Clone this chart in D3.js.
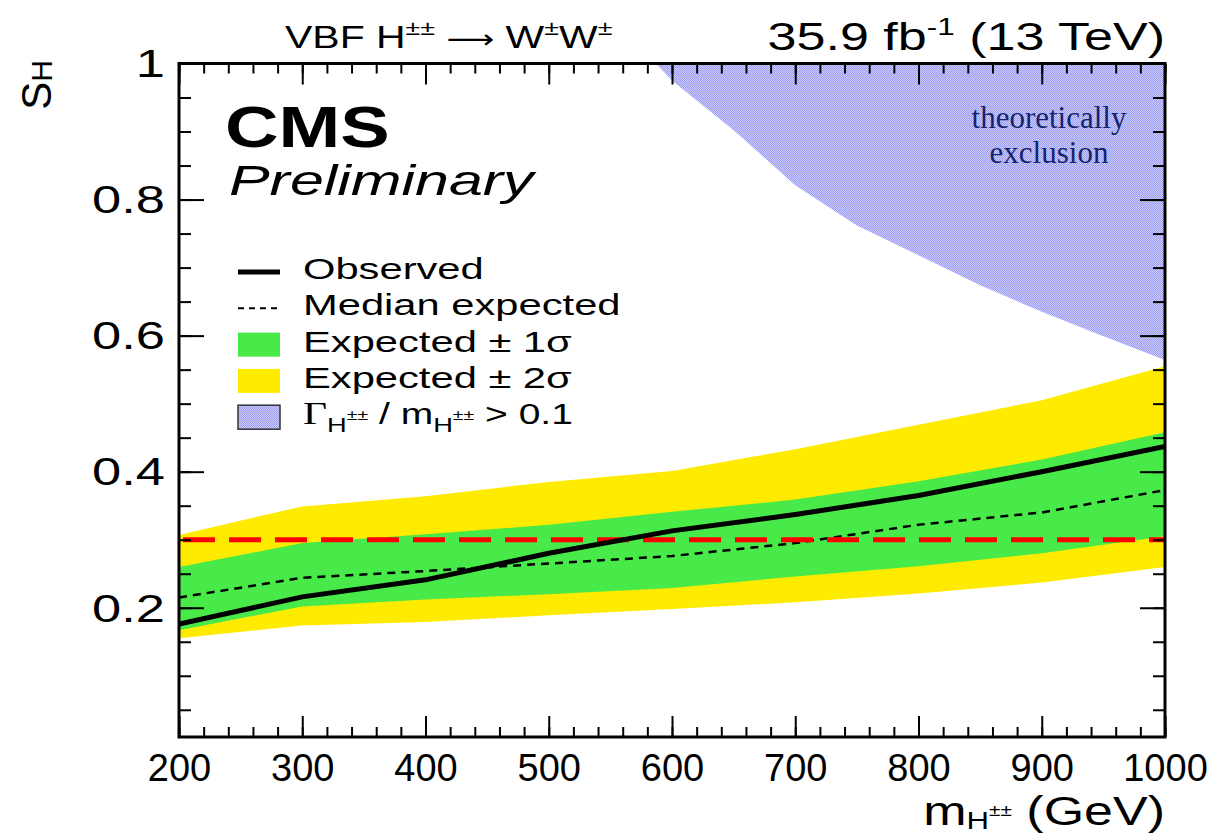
<!DOCTYPE html>
<html>
<head>
<meta charset="utf-8">
<script src="https://cdn.jsdelivr.net/npm/d3@7"></script>
<style>
	body { margin: 0; background: #fff; }
	svg { font-family: 'Liberation Sans', Arial, sans-serif; }
	.tick line { stroke: #000; stroke-width: 2; }
</style>
</head>
<body>
<svg id="chart" width="1216" height="834"></svg>
<script>
// Limits on s_H vs m(H++)
const mass = [200, 300, 400, 500, 600, 700, 800, 900, 1000]
const observed = [0.176, 0.216, 0.241, 0.280, 0.313, 0.337, 0.365, 0.400, 0.437]
const expected = [0.215, 0.244, 0.254, 0.265, 0.276, 0.295, 0.322, 0.340, 0.373]
const oneSigmaUp = [0.260, 0.295, 0.308, 0.322, 0.341, 0.359, 0.386, 0.418, 0.458]
const oneSigmaDown = [0.167, 0.202, 0.212, 0.220, 0.229, 0.246, 0.261, 0.280, 0.305]
const twoSigmaUp = [0.307, 0.349, 0.364, 0.385, 0.401, 0.433, 0.469, 0.505, 0.555]
const twoSigmaDown = [0.155, 0.174, 0.179, 0.189, 0.198, 0.208, 0.221, 0.237, 0.260]

// Gamma/m > 0.1 boundary
const theoryMass = [587, 600, 650, 700, 750, 800, 850, 900, 950, 1000]
const theoryLimit = [1.0, 0.975, 0.902, 0.821, 0.762, 0.718, 0.674, 0.635, 0.599, 0.564]

const referenceLine = 0.3

const xTicks = [200, 300, 400, 500, 600, 700, 800, 900, 1000]
const yTicks = [0.2, 0.4, 0.6, 0.8, 1]
const yTickLabels = ['0.2', '0.4', '0.6', '0.8', '1']

const x = d3.scaleLinear().domain([200, 1000]).range([179, 1165])
const y = d3.scaleLinear().domain([0.01, 1]).range([737, 63.5])

const svg = d3.select('#chart')

svg.append('defs')
	.append('pattern')
	.attr('id', 'hatch')
	.attr('patternUnits', 'userSpaceOnUse')
	.attr('width', 2)
	.attr('height', 2)
	.call(p => {
		p.append('rect').attr('width', 2).attr('height', 2).attr('fill', '#cbcbfc')
		p.append('rect').attr('width', 1).attr('height', 1).attr('fill', '#9c9cf2')
		p.append('rect').attr('x', 1).attr('y', 1).attr('width', 1).attr('height', 1).attr('fill', '#9c9cf2')
	})

svg.select('defs')
	.append('clipPath')
	.attr('id', 'frame-clip')
	.append('rect')
	.attr('x', x(200))
	.attr('y', y(1))
	.attr('width', x(1000) - x(200))
	.attr('height', y(0.01) - y(1))

const rows = mass.map((m, i) => ({
	m,
	obs: observed[i],
	exp: expected[i],
	up1: oneSigmaUp[i],
	dn1: oneSigmaDown[i],
	up2: twoSigmaUp[i],
	dn2: twoSigmaDown[i]
}))

const plot = svg.append('g').attr('clip-path', 'url(#frame-clip)')

const band = (lo, hi) =>
	d3.area()
		.x(d => x(d.m))
		.y0(d => y(d[lo]))
		.y1(d => y(d[hi]))

plot.append('path')
	.attr('d', band('dn2', 'up2')(rows))
	.attr('fill', '#ffeb00')

plot.append('path')
	.attr('d', band('dn1', 'up1')(rows))
	.attr('fill', '#47ea48')

const theory = theoryMass.map((m, i) => ({ m, v: theoryLimit[i] }))

plot.append('path')
	.attr('d',
		d3.area()
			.x(d => x(d.m))
			.y0(y(1))
			.y1(d => y(d.v))(theory))
	.attr('fill', 'url(#hatch)')

plot.append('path')
	.attr('d', d3.line().x(d => x(d.m)).y(d => y(d.exp))(rows))
	.attr('fill', 'none')
	.attr('stroke', '#000')
	.attr('stroke-width', 2.5)
	.attr('stroke-dasharray', '8,6')

plot.append('line')
	.attr('x1', x(200) + 4)
	.attr('x2', x(1000))
	.attr('y1', y(referenceLine))
	.attr('y2', y(referenceLine))
	.attr('stroke', '#ff0000')
	.attr('stroke-width', 5)
	.attr('stroke-dasharray', '32,14')

plot.append('path')
	.attr('d', d3.line().x(d => x(d.m)).y(d => y(d.obs))(rows))
	.attr('fill', 'none')
	.attr('stroke', '#000')
	.attr('stroke-width', 5)

// theory label
const theoryText = svg.append('text')
	.attr('font-family', "'Liberation Serif', 'Times New Roman', serif")
	.attr('font-size', 31)
	.attr('fill', '#14236a')
	.attr('text-anchor', 'middle')

theoryText.append('tspan').attr('x', 1049).attr('y', 128).text('theoretically')
theoryText.append('tspan').attr('x', 1049).attr('y', 163).text('exclusion')

// axes ticks
const gridAxis = (axis, scale, values, size, pos, labels) => {
	const g = svg.append('g')
		.attr('transform', pos)
		.call(axis(scale)
			.tickValues(values)
			.tickSize(-size)
			.tickFormat(labels || ''))
	g.select('.domain').remove()
	return g
}

const minorX = d3.range(200, 1001, 20)
const minorY = d3.range(0.05, 1, 0.05)

gridAxis(d3.axisTop, x, minorX, 10, `translate(0,${y(1)})`)
gridAxis(d3.axisTop, x, xTicks, 21, `translate(0,${y(1)})`)
gridAxis(d3.axisBottom, x, minorX, 10, `translate(0,${y(0.01)})`)
gridAxis(d3.axisRight, y, minorY, 12, `translate(${x(1000)},0)`)
gridAxis(d3.axisRight, y, yTicks, 25, `translate(${x(1000)},0)`)
gridAxis(d3.axisLeft, y, minorY, 12, `translate(${x(200)},0)`)

const bottomAxis = gridAxis(d3.axisBottom, x, xTicks, 21, `translate(0,${y(0.01)})`, d => d)
bottomAxis.selectAll('text')
	.attr('y', 17)
	.attr('font-size', 38)
	.attr('fill', '#000')
	.attr('font-family', "'Liberation Sans', Arial, sans-serif")

const leftAxis = gridAxis(d3.axisLeft, y, yTicks, 25, `translate(${x(200)},0)`, (d, i) => yTickLabels[i])
leftAxis.selectAll('text')
	.attr('x', 0)
	.attr('dy', '0.35em')
	.attr('transform', 'translate(-14,0) scale(1.38,1)')
	.attr('font-size', 38)
	.attr('fill', '#000')
	.attr('font-family', "'Liberation Sans', Arial, sans-serif")

// frame
svg.append('rect')
	.attr('x', x(200))
	.attr('y', y(1))
	.attr('width', x(1000) - x(200))
	.attr('height', y(0.01) - y(1))
	.attr('fill', 'none')
	.attr('stroke', '#000')
	.attr('stroke-width', 3)

// texts
const label = (px, py, size, stretch) =>
	svg.append('text')
		.attr('transform', `translate(${px},${py}) scale(${stretch},1)`)
		.attr('font-size', size)

const title = label(285, 48, 32, 1.28)
title.append('tspan').text('VBF H')
title.append('tspan').attr('font-size', 21).attr('dy', -13).text('±±')
title.append('tspan').attr('dy', 13).text(' ')
title.append('tspan').attr('font-family', "'DejaVu Sans', sans-serif").attr('font-size', 26).text('⟶')
title.append('tspan').text(' W')
title.append('tspan').attr('font-size', 21).attr('dy', -13).text('±')
title.append('tspan').attr('dy', 13).text('W')
title.append('tspan').attr('font-size', 21).attr('dy', -13).text('±')

const lumi = label(1165, 50, 38, 1.37).attr('text-anchor', 'end')
lumi.append('tspan').text('35.9 fb')
lumi.append('tspan').attr('font-size', 23).attr('dy', -15).text('-1')
lumi.append('tspan').attr('dy', 15).text(' (13 TeV)')

label(225, 147, 57, 1.3)
	.attr('font-weight', 'bold')
	.text('CMS')

label(229, 195, 42, 1.45)
	.attr('font-style', 'italic')
	.text('Preliminary')

const yTitle = svg.append('text')
	.attr('transform', 'translate(51,60) rotate(-90)')
	.attr('text-anchor', 'end')
	.attr('font-size', 42)
yTitle.append('tspan').text('S')
yTitle.append('tspan').attr('font-size', 30).attr('dy', 1).text('H')

const xTitle = label(1165, 825, 40, 1.3).attr('text-anchor', 'end')
xTitle.append('tspan').text('m')
xTitle.append('tspan').attr('font-size', 24).attr('dy', 4).text('H')
xTitle.append('tspan').attr('font-size', 16).attr('dy', -13).text('±±')
xTitle.append('tspan').attr('dy', 9).text(' (GeV)')

// legend
const legendRow = i => 272 + i * 36.3
const legend = svg.append('g')

legend.append('line')
	.attr('x1', 238).attr('x2', 280)
	.attr('y1', legendRow(0)).attr('y2', legendRow(0))
	.attr('stroke', '#000').attr('stroke-width', 5)

legend.append('line')
	.attr('x1', 238).attr('x2', 280)
	.attr('y1', legendRow(1)).attr('y2', legendRow(1))
	.attr('stroke', '#000').attr('stroke-width', 2)
	.attr('stroke-dasharray', '6,5')

const boxes = [['#47ea48', 'none'], ['#ffeb00', 'none'], ['url(#hatch)', '#333']]
boxes.forEach(([fill, stroke], i) => {
	legend.append('rect')
		.attr('x', 238).attr('y', legendRow(i + 2) - 12)
		.attr('width', 42).attr('height', 24)
		.attr('fill', fill)
		.attr('stroke', stroke)
		.attr('stroke-width', 1.5)
})

const legendText = (i, stretch) => label(303, legendRow(i) + 7, 30, stretch || 1.39)
legendText(0).text('Observed')
legendText(1).text('Median expected')
legendText(2).text('Expected ± 1σ')
legendText(3).text('Expected ± 2σ')

const gamma = legendText(4, 1.3)
gamma.append('tspan').attr('font-family', "'Liberation Serif', serif").attr('font-size', 32).text('Γ')
gamma.append('tspan').attr('font-size', 21).attr('dy', 8).text('H')
gamma.append('tspan').attr('font-size', 15).attr('dy', -12).text('±±')
gamma.append('tspan').attr('dy', 4).text(' / m')
gamma.append('tspan').attr('font-size', 21).attr('dy', 8).text('H')
gamma.append('tspan').attr('font-size', 15).attr('dy', -12).text('±±')
gamma.append('tspan').attr('dy', 4).text(' > 0.1')
</script>
</body>
</html>
